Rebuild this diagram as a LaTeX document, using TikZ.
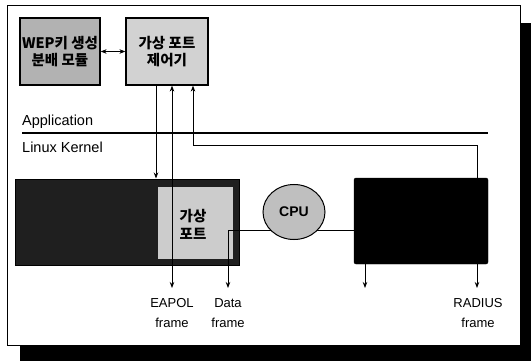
\documentclass[tikz,border=0pt]{standalone}
\usepackage{fontspec}
\setmainfont{Liberation Sans}
\newfontfamily\kr{Noto Sans CJK KR}
\usetikzlibrary{arrows.meta,shapes.geometric}
\tikzset{
  box/.style={draw=black, line width=1.2pt, inner sep=0pt, align=center, font=\kr\bfseries\fontsize{14.5}{17}\selectfont},
  arr/.style={-{Stealth[length=6pt,width=4.5pt]}, line width=0.9pt},
  darr/.style={{Stealth[length=6pt,width=4.5pt]}-{Stealth[length=6pt,width=4.5pt]}, line width=0.9pt},
  ln/.style={line width=0.9pt},
  lbl/.style={align=center, inner sep=0pt, font=\fontsize{13}{20}\selectfont},
  lay/.style={anchor=west, inner sep=0pt, font=\fontsize{14.5}{17}\selectfont}
}
\begin{document}
\begin{tikzpicture}[x=1pt,y=-1pt]
\useasboundingbox (0,0) rectangle (531,361);
% frame with shadow
\fill[black] (20,23) rectangle (545,375);
\draw[fill=white, line width=1pt] (7,6) rectangle (520,345);
% top boxes
\node[box, fill=gray!60, minimum width=80, minimum height=67] (wep) at (60,51.5) {WEP키 생성\\분배 모듈};
\node[box, fill=gray!35, minimum width=82, minimum height=67] (ctl) at (167,51.5) {가상 포트\\제어기};
\draw[darr] (wep) -- (ctl);
% layers
\node[lay] (app) at (22,122) {Application};
\node[lay] (lk) at (22,147) {Linux Kernel};
\coordinate (L1) at (22,133);
\coordinate (L2) at (488,133);
\draw[line width=2.6pt] (L1) -- (L2);
% lower boxes
\node[draw=black, line width=1pt, fill=black!88, minimum width=224, minimum height=86] (lan) at (127,222) {};
\node[fill=gray!40, inner sep=0pt, minimum width=75, minimum height=72, align=center, font=\kr\bfseries\fontsize{14.5}{18}\selectfont] (vp) at (195.5,223) {};
\node[inner sep=0pt, align=center, font=\kr\bfseries\fontsize{14.5}{18}\selectfont] (vpt) at (193,224) {가상\\포트};
\node[draw=black, fill=black, rounded corners=2pt, minimum width=134, minimum height=86] (rad) at (421,221) {};
% connectors
\coordinate (x1) at (156,0);
\draw[arr] (x1 |- ctl.south) -- (x1 |- lan.north);
\coordinate (eapol) at (172,288);
\draw[darr] (eapol |- ctl.south) -- (eapol);
\coordinate (x3) at (193,145);
\coordinate (x4) at (477,0);
\draw[arr] (x4 |- rad.north) -- (x4 |- x3) -- (x3) -- (x3 |- ctl.south);
\coordinate (dj) at (228,230);
\coordinate (data) at (228,288);
\draw[ln] (dj) -- (dj -| rad.west);
\draw[arr] (dj) -- (data);
\coordinate (r1) at (365,288);
\coordinate (r2) at (477,288);
\draw[arr] (r1 |- rad.south) -- (r1);
\draw[arr] (r2 |- rad.south) -- (r2);
% CPU
\node[ellipse, draw=black, line width=1pt, fill=gray!50, minimum width=62, minimum height=55, inner sep=0pt, font=\bfseries\fontsize{14}{16}\selectfont] (cpu) at (294,212) {CPU};
% labels
\node[lbl] (le) at (172,313) {EAPOL\\frame};
\node[lbl] (ld) at (228,313) {Data\\frame};
\node[lbl] (lr) at (478,313) {RADIUS\\frame};
\end{tikzpicture}
\end{document}
